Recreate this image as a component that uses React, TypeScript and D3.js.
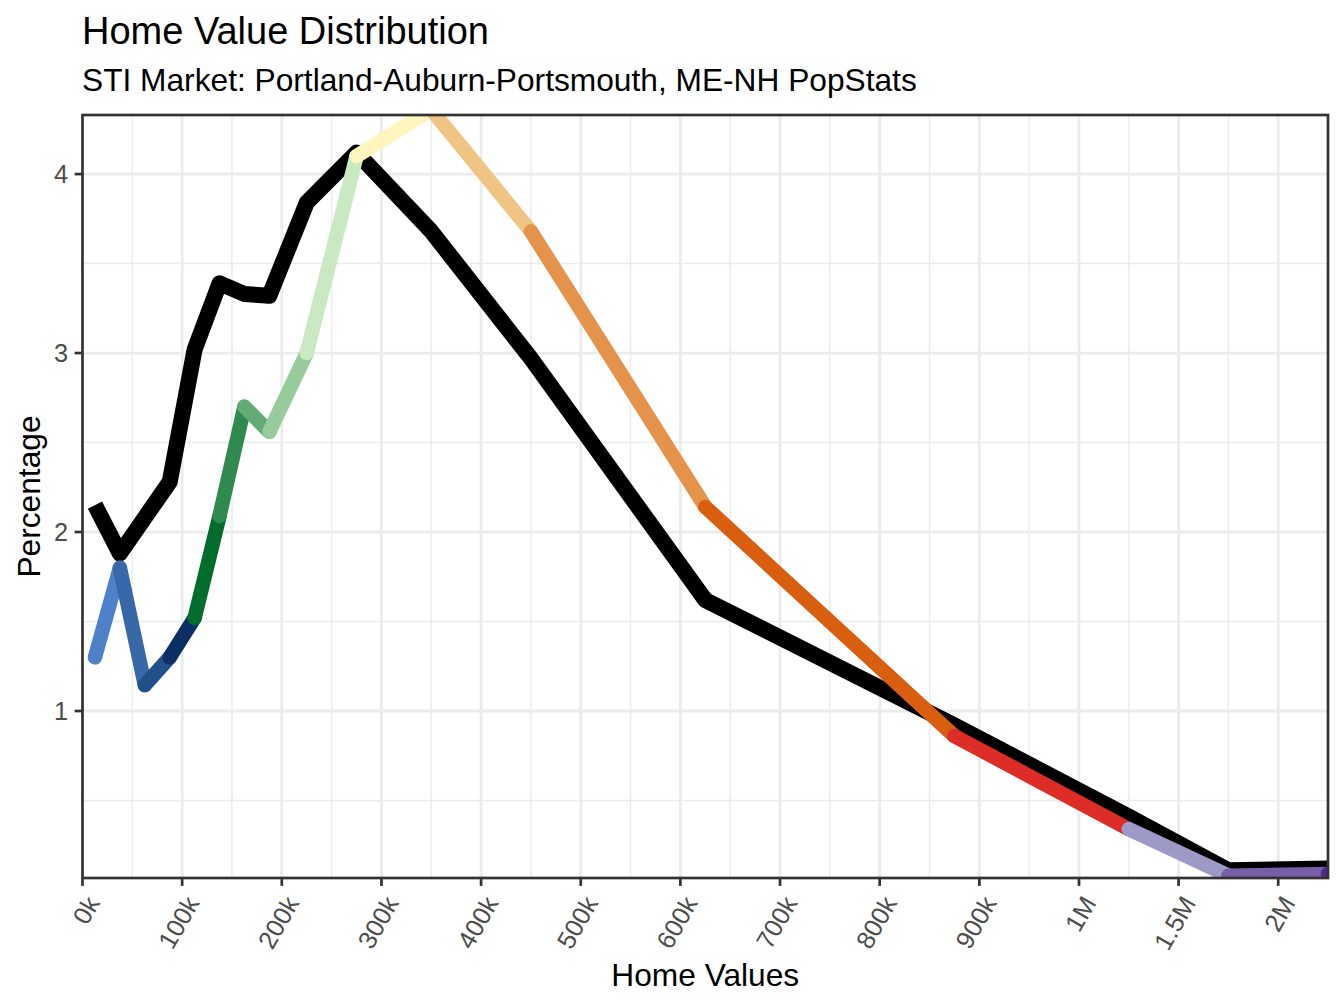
import * as d3 from "d3";

// bin midpoints of the home value brackets (dollars)
const binMidpoints = [
  12500, 37500, 62500, 87500, 112500, 137500, 162500, 187500, 225000, 275000,
  350000, 450000, 625000, 875000, 1250000, 1750000, 2250000,
];

// whole market share per bracket (black line)
const marketShare = [
  2.15, 1.88, 2.08, 2.28, 3.02, 3.39, 3.33, 3.32, 3.84, 4.12, 3.68, 2.97, 1.62,
  0.92, 0.41, 0.11, 0.12,
];

// PopStats share per bracket (coloured line)
const popstatsShare = [
  1.3, 1.8, 1.145, 1.3, 1.52, 2.09, 2.7, 2.56, 3.0, 4.1, 4.36, 3.68, 2.14, 0.86,
  0.34, 0.08, 0.09,
];

// colour of each point; a segment takes the colour of the point it starts from
const pointColors = [
  "#4e81ca", "#3868a9", "#22508b", "#0b2f65", "#006d2c", "#2f8a50", "#63ab75",
  "#98cb9c", "#c8e9c1", "#fff5bf", "#f0c584", "#e5924a", "#d95f0e", "#de2d26",
  "#9e9ac8", "#765fa7", "#54278f",
];

const xTickValues = [
  0, 100000, 200000, 300000, 400000, 500000, 600000, 700000, 800000, 900000,
  1000000, 1500000, 2000000,
];
const xTickLabels = [
  "0k", "100k", "200k", "300k", "400k", "500k", "600k", "700k", "800k", "900k",
  "1M", "1.5M", "2M",
];
const xMinorValues = [
  50000, 150000, 250000, 350000, 450000, 550000, 650000, 750000, 850000, 950000,
  1250000, 1750000,
];
const yTickValues = [1, 2, 3, 4];
const yMinorValues = [0.5, 1.5, 2.5, 3.5];

const width = 1344;
const height = 1008;
const panel = { left: 82.5, right: 1328, top: 115, bottom: 878 };

const font = "'Liberation Sans', Arial, sans-serif";
const gridColor = "#ebebeb";
const axisColor = "#333333";

export default function App() {
  // the x axis is squeezed above 1M: 500k per step instead of 100k
  const x = d3
    .scaleLinear()
    .domain([0, 1000000, 2250000])
    .range([panel.left, panel.left + 996.5, panel.right]);
  const y = d3
    .scaleLinear()
    .domain([0.067, 4.33])
    .range([panel.bottom, panel.top]);

  const line = d3
    .line<number>()
    .x((_, i) => x(binMidpoints[i]))
    .y((d) => y(d));

  const segments = popstatsShare.slice(0, -1).map((v, i) => ({
    x1: x(binMidpoints[i]),
    y1: y(v),
    x2: x(binMidpoints[i + 1]),
    y2: y(popstatsShare[i + 1]),
    color: pointColors[i],
  }));
  const last = popstatsShare.length - 1;

  return (
    <svg
      width={width}
      height={height}
      style={{ position: "absolute", left: 0, top: 0, background: "#fff" }}
      fontFamily={font}
    >
      <defs>
        <clipPath id="panel-clip">
          <rect
            x={panel.left}
            y={panel.top}
            width={panel.right - panel.left}
            height={panel.bottom - panel.top}
          />
        </clipPath>
      </defs>

      <text x={82} y={44} fontSize={38} fill="#000">
        Home Value Distribution
      </text>
      <text x={82} y={91} fontSize={31.7} fill="#000">
        STI Market: Portland-Auburn-Portsmouth, ME-NH PopStats
      </text>

      {/* grid */}
      <g stroke={gridColor}>
        {xMinorValues.map((v) => (
          <line key={"xm" + v} x1={x(v)} x2={x(v)} y1={panel.top} y2={panel.bottom} strokeWidth={1.4} />
        ))}
        {yMinorValues.map((v) => (
          <line key={"ym" + v} x1={panel.left} x2={panel.right} y1={y(v)} y2={y(v)} strokeWidth={1.4} />
        ))}
        {xTickValues.map((v) => (
          <line key={"x" + v} x1={x(v)} x2={x(v)} y1={panel.top} y2={panel.bottom} strokeWidth={2.8} />
        ))}
        {yTickValues.map((v) => (
          <line key={"y" + v} x1={panel.left} x2={panel.right} y1={y(v)} y2={y(v)} strokeWidth={2.8} />
        ))}
      </g>

      <g clipPath="url(#panel-clip)" fill="none">
        <path
          d={line(marketShare) ?? ""}
          stroke="#000"
          strokeWidth={16}
          strokeLinejoin="round"
          strokeLinecap="butt"
        />
        {segments.map((s, i) => (
          <line
            key={i}
            x1={s.x1}
            y1={s.y1}
            x2={s.x2}
            y2={s.y2}
            stroke={s.color}
            strokeWidth={14.5}
            strokeLinecap="round"
          />
        ))}
        <circle
          cx={x(binMidpoints[last])}
          cy={y(popstatsShare[last])}
          r={7.25}
          fill={pointColors[last]}
        />
      </g>

      {/* panel border */}
      <rect
        x={panel.left}
        y={panel.top}
        width={panel.right - panel.left}
        height={panel.bottom - panel.top}
        fill="none"
        stroke={axisColor}
        strokeWidth={2.7}
      />

      {/* y axis */}
      {yTickValues.map((v) => (
        <g key={"yt" + v}>
          <line x1={panel.left - 7.9} x2={panel.left} y1={y(v)} y2={y(v)} stroke={axisColor} strokeWidth={2.7} />
          <text x={68} y={y(v)} dy="0.36em" textAnchor="end" fontSize={25.4} fill="#4d4d4d">
            {v}
          </text>
        </g>
      ))}

      {/* x axis */}
      {xTickValues.map((v, i) => (
        <g key={"xt" + v}>
          <line x1={x(v)} x2={x(v)} y1={panel.bottom} y2={panel.bottom + 7.9} stroke={axisColor} strokeWidth={2.7} />
          <text
            transform={`translate(${x(v) + 18},${panel.bottom + 25}) rotate(-60)`}
            textAnchor="end"
            fontSize={25.4}
            fill="#4d4d4d"
          >
            {xTickLabels[i]}
          </text>
        </g>
      ))}

      <text x={(panel.left + panel.right) / 2} y={986} textAnchor="middle" fontSize={31.7} fill="#000">
        Home Values
      </text>
      <text
        transform={`translate(40,${(panel.top + panel.bottom) / 2}) rotate(-90)`}
        textAnchor="middle"
        fontSize={31.7}
        fill="#000"
      >
        Percentage
      </text>
    </svg>
  );
}
